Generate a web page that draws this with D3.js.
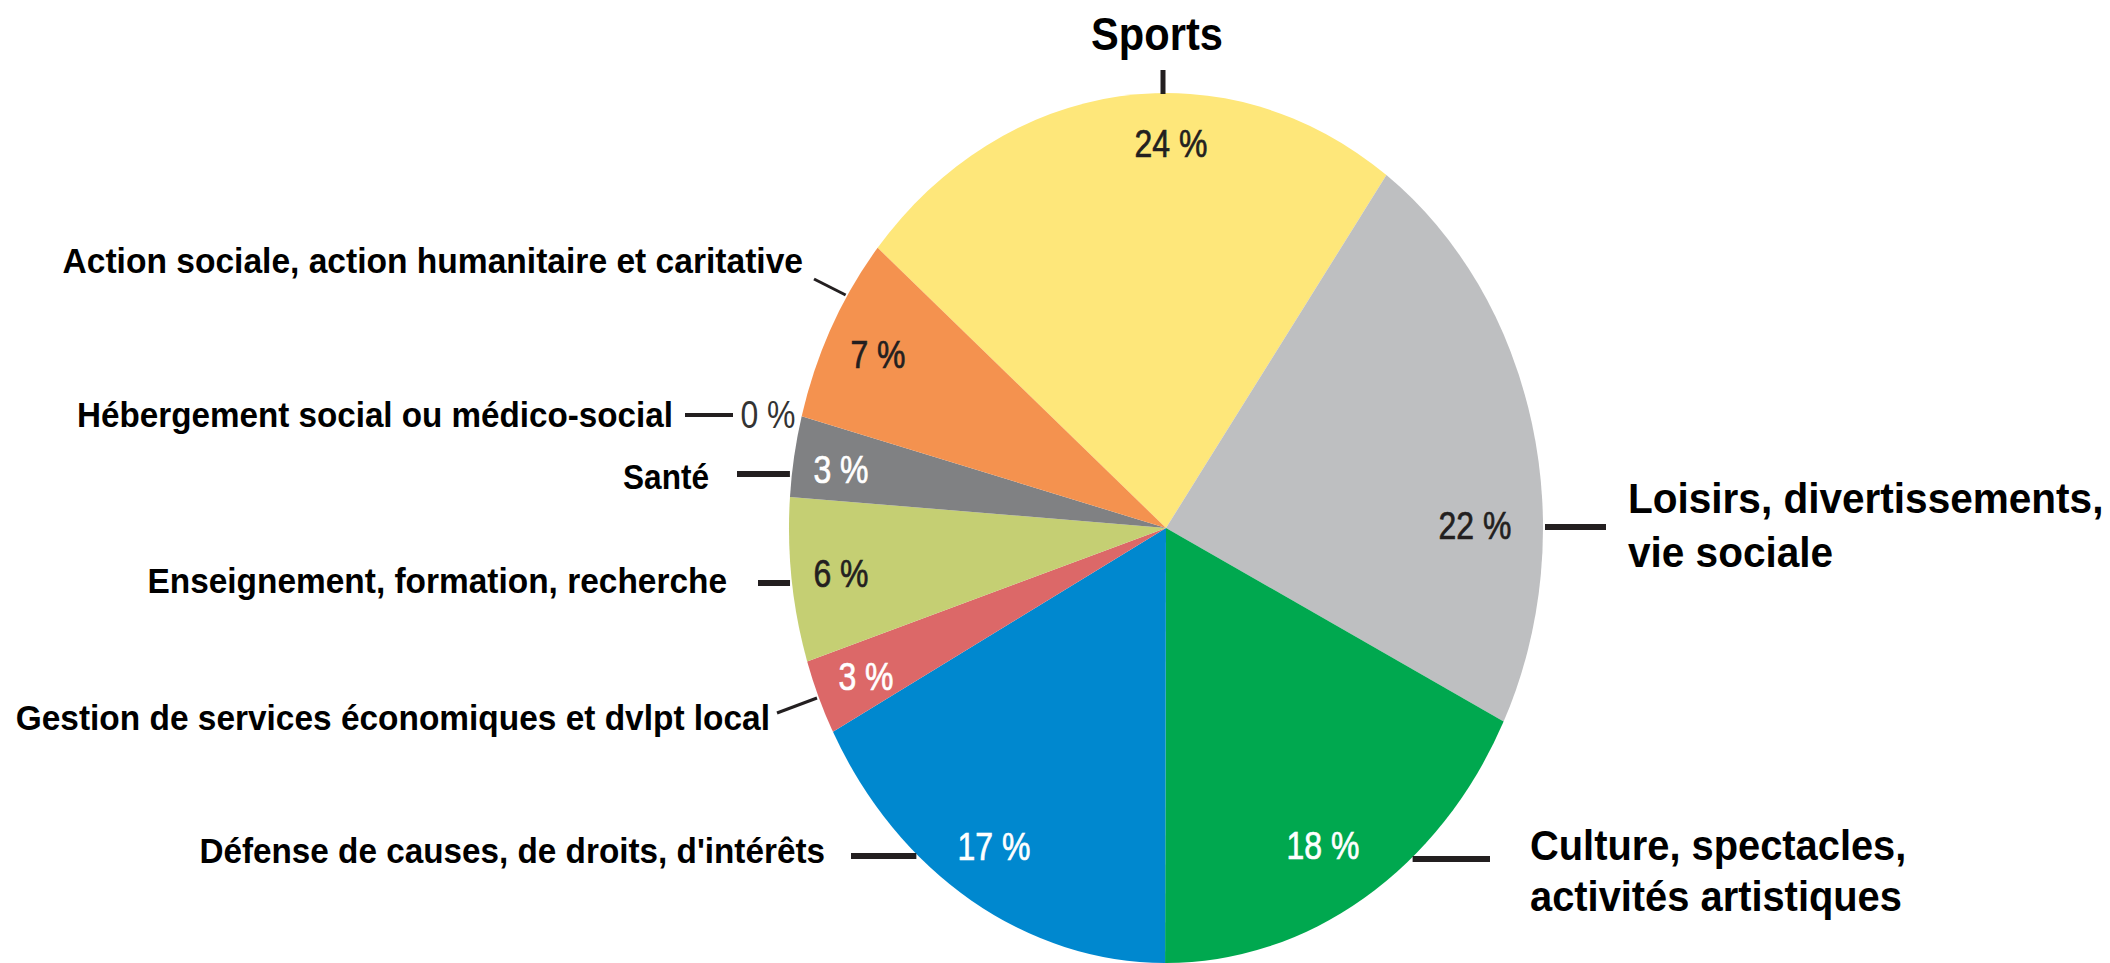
<!DOCTYPE html>
<html>
<head>
<meta charset="utf-8">
<script src="https://cdn.jsdelivr.net/npm/d3@7"></script>
<style>
  html, body { margin: 0; padding: 0; background: #fff; overflow: hidden; }
</style>
</head>
<body>
<div id="chart"></div>
<script>
// data, clockwise from the Sports slice
const categories = [
    ["Sports"],
    ["Loisirs, divertissements,", "vie sociale"],
    ["Culture, spectacles,", "activités artistiques"],
    ["Défense de causes, de droits, d'intérêts"],
    ["Gestion de services économiques et dvlpt local"],
    ["Enseignement, formation, recherche"],
    ["Santé"],
    ["Hébergement social ou médico-social"],
    ["Action sociale, action humanitaire et caritative"]
];
const values = [23.8, 22.4, 17.7, 17.2, 2.8, 6.1, 3.0, 0, 7.0];
const colors = ["#fee77a", "#bebfc1", "#00a84f", "#0088cf", "#dc6868", "#c5cf73", "#808183", "#808183", "#f4924f"];
const pctColors = ["#231f20", "#231f20", "#fff", "#fff", "#fff", "#231f20", "#fff", "#333", "#231f20"];

// hand placed labels (as in the original layout)
const layout = [
    { pct: [1171, 157], txt: [1157, 50], anchor: "middle", size: 47, sx: 1.08, lh: 0, lead: { top: true, x: 1163, oy: 70, w: 5 } },
    { pct: [1475, 539], txt: [1628, 513], anchor: "start", size: 43, sx: 1.15, lh: 54, lead: { y: 527, side: 1, ox: 1606, w: 6 } },
    { pct: [1323, 859], txt: [1530, 860], anchor: "start", size: 43, sx: 1.13, lh: 51, lead: { y: 859, side: 1, ox: 1490, w: 6 } },
    { pct: [994, 860], txt: [825, 863], anchor: "end", size: 35, sx: 1.16, lh: 0, lead: { y: 856, side: -1, ox: 851, w: 6 } },
    { pct: [866, 690], txt: [770, 730], anchor: "end", size: 35, sx: 1.165, lh: 0, lead: { y: 698, side: -1, ox: 777, oy: 713, w: 3 } },
    { pct: [841, 587], txt: [727, 593], anchor: "end", size: 35, sx: 1.165, lh: 0, lead: { y: 583, side: -1, ox: 758, w: 6 } },
    { pct: [841, 483], txt: [709, 489], anchor: "end", size: 35, sx: 1.1, lh: 0, lead: { y: 474, side: -1, ox: 737, w: 6 } },
    { pct: [768, 428], txt: [673, 427], anchor: "end", size: 35, sx: 1.157, lh: 0, lead: { x1: 685, x2: 733, y: 415, w: 4 } },
    { pct: [878, 368], txt: [803, 273], anchor: "end", size: 35, sx: 1.17, lh: 0, lead: { y: 295, side: -1, ox: 814, oy: 279, w: 3 } }
];

const W = 2110, H = 963;
const cx = 1166, cy = 528, rx = 377, ry = 435;
const startDeg = -49.9;

// condensed face if present, otherwise squeeze regular Arial metrics
function hasNarrow() {
    const ctx = document.createElement("canvas").getContext("2d");
    ctx.font = "bold 40px 'Liberation Sans Narrow', monospace";
    const a = ctx.measureText("Loisirs divertissements").width;
    ctx.font = "bold 40px monospace";
    const b = ctx.measureText("Loisirs divertissements").width;
    return a !== b;
}
const narrow = hasNarrow();
const family = narrow ? "'Liberation Sans Narrow', 'Liberation Sans', Arial, sans-serif" : "'Liberation Sans', Arial, sans-serif";
const base = narrow ? 1 : 0.82;

const svg = d3.select("#chart").append("svg")
    .attr("width", W)
    .attr("height", H)
    .style("font-family", family);

const pie = d3.pie()
    .sort(null)
    .value(d => d)
    .startAngle(startDeg * Math.PI / 180)
    .endAngle(startDeg * Math.PI / 180 + 2 * Math.PI);

const arc = d3.arc().innerRadius(0).outerRadius(rx);

const pieG = svg.append("g")
    .attr("transform", `translate(${cx},${cy}) scale(1,${ry / rx})`);

pieG.selectAll("path")
    .data(pie(values))
    .enter()
    .append("path")
    .attr("d", arc)
    .attr("fill", (d, i) => colors[i]);

// x of the ellipse rim at a given height
function rimX(y, side) {
    const t = (y - cy) / ry;
    return cx + side * rx * Math.sqrt(Math.max(0, 1 - t * t));
}

// leader lines
layout.forEach((L, i) => {
    const l = L.lead;
    let x1, y1, x2, y2;
    if (l.top) {
        x1 = l.x; x2 = l.x;
        const t = (l.x - cx) / rx;
        y1 = cy - ry * Math.sqrt(1 - t * t) + 1;
        y2 = l.oy;
    } else if (l.x1 !== undefined) {
        x1 = l.x1; x2 = l.x2; y1 = l.y; y2 = l.y;
    } else {
        x1 = rimX(l.y, l.side) + l.side * 2;
        y1 = l.y;
        x2 = l.ox;
        y2 = l.oy !== undefined ? l.oy : l.y;
    }
    svg.append("line")
        .attr("x1", x1).attr("y1", y1)
        .attr("x2", x2).attr("y2", y2)
        .attr("stroke", "#231f20")
        .attr("stroke-width", l.w);
});

function squeezed(g, x, y, s) {
    return g.append("g").attr("transform", `translate(${x},${y}) scale(${base * s},1)`);
}

// percentage labels
values.forEach((v, i) => {
    const [px, py] = layout[i].pct;
    const t = squeezed(svg, px, py, 1).append("text")
        .attr("text-anchor", "middle")
        .style("font-size", "39px")
        .style("font-weight", i === 7 ? "300" : "normal")
        .attr("fill", pctColors[i])
        .text(`${Math.round(v)} %`);
    if (i !== 7) {
        t.attr("stroke", pctColors[i]).attr("stroke-width", 0.7);
    }
});

// category labels
categories.forEach((lines, i) => {
    const L = layout[i];
    const g = squeezed(svg, L.txt[0], L.txt[1], L.sx);
    lines.forEach((line, j) => {
        g.append("text")
            .attr("y", j * L.lh)
            .attr("text-anchor", L.anchor)
            .style("font-size", L.size + "px")
            .style("font-weight", "bold")
            .attr("fill", "#000")
            .text(line);
    });
});
</script>
</body>
</html>
